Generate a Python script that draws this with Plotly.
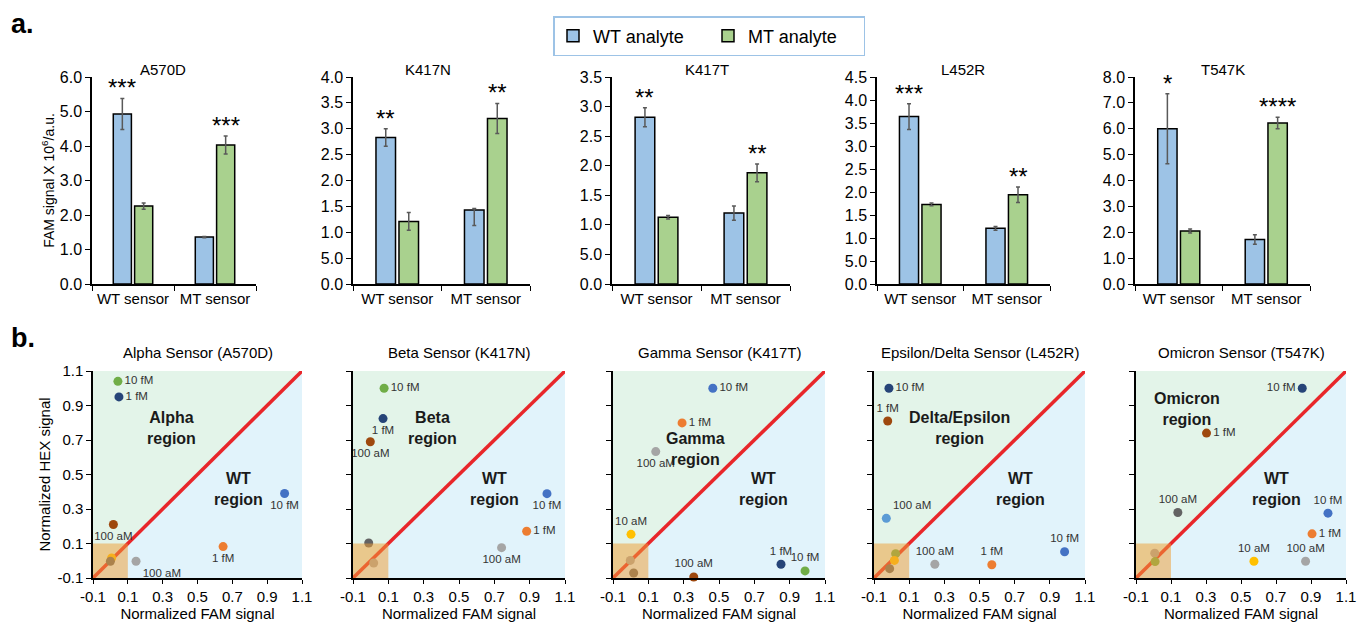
import plotly.graph_objects as go

W, H = 1357, 622


def px(x):
    return x / W


def py(y):
    return 1 - y / H


FONT = "Liberation Sans, Arial, sans-serif"

# ---------------- Panel a data ----------------
mutations = ["A570D", "K417N", "K417T", "L452R", "T547K"]
sensors = ["WT sensor", "MT sensor"]
wt_analyte = [[4.93, 1.36], [2.83, 1.43], [2.82, 1.20], [3.64, 1.21], [6.00, 1.72]]
wt_err_plus = [[0.45, 0.02], [0.17, 0.03], [0.16, 0.12], [0.28, 0.04], [1.35, 0.18]]
wt_err_minus = [[0.45, 0.02], [0.17, 0.30], [0.16, 0.12], [0.28, 0.04], [1.35, 0.18]]
mt_analyte = [[2.26, 4.03], [1.21, 3.20], [1.13, 1.88], [1.73, 1.94], [2.05, 6.22]]
mt_err = [[0.09, 0.26], [0.17, 0.29], [0.03, 0.15], [0.03, 0.17], [0.08, 0.22]]
significance = [["***", "***"], ["**", "**"], ["**", "**"], ["***", "**"], ["*", "****"]]
y_max = [6.0, 4.0, 3.5, 4.5, 8.0]
y_tickvals = [
    [0, 1, 2, 3, 4, 5, 6],
    [0, 0.5, 1, 1.5, 2, 2.5, 3, 3.5, 4],
    [0, 0.5, 1, 1.5, 2, 2.5, 3, 3.5],
    [0, 0.5, 1, 1.5, 2, 2.5, 3, 3.5, 4, 4.5],
    [0, 1, 2, 3, 4, 5, 6, 7, 8],
]
y_ticktext = [
    ["0.0", "1.0", "2.0", "3.0", "4.0", "5.0", "6.0"],
    ["0.0", "5.0", "1.0", "1.5", "2.0", "2.5", "3.0", "3.5", "4.0"],
    ["0.0", "5.0", "1.0", "1.5", "2.0", "2.5", "3.0", "3.5"],
    ["0.0", "5.0", "1.0", "1.5", "2.0", "2.5", "3.0", "3.5", "4.0", "4.5"],
    ["0.0", "1.0", "2.0", "3.0", "4.0", "5.0", "6.0", "7.0", "8.0"],
]

# ---------------- Panel b data ----------------
sensor_titles = ["Alpha Sensor (A570D)", "Beta Sensor (K417N)", "Gamma Sensor (K417T)",
                 "Epsilon/Delta Sensor (L452R)", "Omicron Sensor (T547K)"]
region_names = ["Alpha<br>region", "Beta<br>region", "Gamma<br>region",
                "Delta/Epsilon<br>region", "Omicron<br>region"]

BLUE, ORANGE, GREY, YELLOW = "#4472C4", "#ED7D31", "#A5A5A5", "#FFC000"
LBLUE, GREEN, NAVY, BROWN, DGREY = "#5B9BD5", "#70AD47", "#264478", "#9E480E", "#636363"

fam_alpha = [0.043, 0.049, 0.017, 0.007, 0.000, 0.147, 0.647, 1.000]
hex_alpha = [1.040, 0.950, 0.210, 0.016, -0.003, -0.003, 0.082, 0.390]
col_alpha = [GREEN, NAVY, BROWN, YELLOW, DGREY, GREY, ORANGE, BLUE]
lab_alpha = ["10 fM", "1 fM", "100 aM", "", "", "100 aM", "1 fM", "10 fM"]

fam_beta = [0.076, 0.070, -0.002, -0.011, 0.017, 0.998, 0.883, 0.741]
hex_beta = [1.000, 0.824, 0.690, 0.103, -0.013, 0.389, 0.171, 0.076]
col_beta = [GREEN, NAVY, BROWN, DGREY, GREY, BLUE, ORANGE, GREY]
lab_beta = ["10 fM", "1 fM", "100 aM", "", "", "10 fM", "1 fM", "100 aM"]

fam_gamma = [0.465, 0.291, 0.142, 0.002, -0.002, 0.017, 0.357, 0.851, 0.987]
hex_gamma = [1.000, 0.799, 0.633, 0.153, 0.002, -0.071, -0.094, -0.020, -0.059]
col_gamma = [BLUE, ORANGE, GREY, YELLOW, GREY, DGREY, BROWN, NAVY, GREEN]
lab_gamma = ["10 fM", "1 fM", "100 aM", "10 aM", "", "", "100 aM", "1 fM", "10 fM"]

fam_delta = [-0.015, -0.022, -0.030, 0.023, 0.016, -0.011, 0.246, 0.570, 0.984]
hex_delta = [1.000, 0.810, 0.246, 0.041, 0.002, -0.046, -0.020, -0.023, 0.052]
col_delta = [NAVY, BROWN, LBLUE, GREEN, YELLOW, DGREY, GREY, ORANGE, BLUE]
lab_delta = ["10 fM", "1 fM", "100 aM", "", "", "", "100 aM", "1 fM", "10 fM"]

fam_omicron = [0.850, 0.303, 0.139, 0.007, 0.009, 0.997, 0.906, 0.574, 0.869]
hex_omicron = [1.000, 0.740, 0.280, 0.044, -0.005, 0.276, 0.156, -0.003, -0.003]
col_omicron = [NAVY, BROWN, DGREY, GREY, GREEN, BLUE, ORANGE, YELLOW, GREY]
lab_omicron = ["10 fM", "1 fM", "100 aM", "", "", "10 fM", "1 fM", "10 aM", "100 aM"]

fam_all = [fam_alpha, fam_beta, fam_gamma, fam_delta, fam_omicron]
hex_all = [hex_alpha, hex_beta, hex_gamma, hex_delta, hex_omicron]
col_all = [col_alpha, col_beta, col_gamma, col_delta, col_omicron]
lab_all = [lab_alpha, lab_beta, lab_gamma, lab_delta, lab_omicron]

axis_ticks_b = [-0.1, 0.1, 0.3, 0.5, 0.7, 0.9, 1.1]
axis_ticktext_b = ["-0.1", "0.1", "0.3", "0.5", "0.7", "0.9", "1.1"]

# ---------------- layout geometry (style) ----------------
top_x_dom = [(92, 256), (353, 530), (612, 790), (877, 1050), (1135, 1310)]
top_y_dom = (284, 77)
top_title_x = [163, 428, 707, 963, 1223]
bot_x_dom = [(93, 302), (353, 565), (613, 825), (874, 1085), (1136, 1346)]
bot_y_dom = (578, 371)

text_pos = [
    ["middle right", "middle right", "bottom center", "middle center", "middle center",
     "bottom right", "bottom center", "bottom center"],
    ["middle right", "bottom center", "bottom center", "middle center", "middle center",
     "bottom center", "middle right", "bottom center"],
    ["middle right", "middle right", "bottom center", "top center", "middle center",
     "middle center", "top center", "top center", "top center"],
    ["middle right", "top center", "top right", "middle center", "middle center",
     "middle center", "top center", "top center", "top center"],
    ["middle left", "middle right", "top center", "middle center", "middle center",
     "top center", "middle right", "top center", "top center"],
]
region_pos = [(0.353, 0.771), (0.35, 0.771), (0.367, 0.65), (0.388, 0.77), (0.194, 0.88)]
wt_region_pos = [(0.738, 0.417), (0.703, 0.417), (0.754, 0.417), (0.732, 0.417), (0.70, 0.417)]

BAR_BLUE = "#9DC3E6"
BAR_GREEN = "#A9D18E"

fig = go.Figure()
layout = dict(
    width=W, height=H, autosize=False,
    margin=dict(l=0, r=0, t=0, b=0, pad=0, autoexpand=False),
    paper_bgcolor="white", plot_bgcolor="rgba(0,0,0,0)",
    font=dict(family=FONT, color="#000000"),
    barmode="group", bargap=0.48, bargroupgap=0.15,
    showlegend=True,
    legend=dict(orientation="h", x=px(553), xanchor="left", y=py(16), yanchor="top",
                bordercolor="#9DC3E6", borderwidth=1.5, font=dict(size=18, family=FONT),
                bgcolor="white", itemclick=False, entrywidth=110, entrywidthmode="pixels"),
)
annotations = []
shapes = []

# ---------------- Panel a ----------------
for i in range(5):
    n = i + 1
    xs = "x" if n == 1 else f"x{n}"
    ys = "y" if n == 1 else f"y{n}"
    fig.add_trace(go.Bar(
        x=sensors, y=wt_analyte[i], name="WT analyte", legendgroup="wt",
        showlegend=(i == 0), xaxis=xs, yaxis=ys,
        marker=dict(color=BAR_BLUE, line=dict(color="#000000", width=1.5)),
        error_y=dict(type="data", array=wt_err_plus[i], arrayminus=wt_err_minus[i],
                     symmetric=False, color="#595959", thickness=1.5, width=2),
    ))
    fig.add_trace(go.Bar(
        x=sensors, y=mt_analyte[i], name="MT analyte", legendgroup="mt",
        showlegend=(i == 0), xaxis=xs, yaxis=ys,
        marker=dict(color=BAR_GREEN, line=dict(color="#000000", width=1.5)),
        error_y=dict(type="data", array=mt_err[i], color="#595959", thickness=1.5, width=2),
    ))
    xk = "xaxis" if n == 1 else f"xaxis{n}"
    yk = "yaxis" if n == 1 else f"yaxis{n}"
    layout[xk] = dict(domain=[px(top_x_dom[i][0]), px(top_x_dom[i][1])], anchor=ys,
                      type="category", range=[-0.5, 1.5], showline=True,
                      linecolor="#000000", linewidth=1.5, ticks="outside",
                      tickson="boundaries", ticklen=5, tickcolor="#000000",
                      tickfont=dict(size=15), tickangle=0, showgrid=False,
                      fixedrange=True, automargin=False)
    layout[yk] = dict(domain=[py(top_y_dom[0]), py(top_y_dom[1])], anchor=xs,
                      range=[0, y_max[i]], tickvals=y_tickvals[i], ticktext=y_ticktext[i],
                      showline=True, linecolor="#000000", linewidth=1.5, ticks="outside",
                      ticklen=5, tickcolor="#000000", tickfont=dict(size=16),
                      showgrid=False, zeroline=False, fixedrange=True, automargin=False)
    if i == 0:
        layout[yk]["title"] = dict(text="FAM signal X 10<sup>6</sup>/a.u.",
                                   font=dict(size=14), standoff=2)
    annotations.append(dict(text=mutations[i], x=px(top_title_x[i]), y=py(70),
                            xref="paper", yref="paper", showarrow=False,
                            font=dict(size=15), xanchor="center", yanchor="middle"))
    # significance stars over the taller bar of each group
    for j in range(2):
        wt_top = wt_analyte[i][j] + wt_err_plus[i][j]
        mt_top = mt_analyte[i][j] + mt_err[i][j]
        off = -0.13 if wt_top >= mt_top else 0.13
        annotations.append(dict(text=significance[i][j], x=j + off, y=max(wt_top, mt_top),
                                xref=xs, yref=ys, showarrow=False, xanchor="center",
                                yanchor="bottom", yshift=-5,
                                font=dict(size=24, color="#000000")))

# ---------------- Panel b ----------------
for i in range(5):
    n = i + 6
    xs, ys = f"x{n}", f"y{n}"
    fig.add_trace(go.Scatter(
        x=fam_all[i], y=hex_all[i], mode="markers+text", text=lab_all[i],
        textposition=text_pos[i], textfont=dict(size=11.5, color="#333333"),
        marker=dict(color=col_all[i], size=9), showlegend=False,
        xaxis=xs, yaxis=ys, cliponaxis=False,
    ))
    layout[f"xaxis{n}"] = dict(domain=[px(bot_x_dom[i][0]), px(bot_x_dom[i][1])], anchor=ys,
                               range=[-0.1, 1.1], tickvals=axis_ticks_b, ticktext=axis_ticktext_b,
                               showline=True, linecolor="#000000", linewidth=1.5,
                               ticks="outside", ticklen=4, tickcolor="#000000",
                               tickfont=dict(size=15), showgrid=False, zeroline=False,
                               title=dict(text="Normalized FAM signal", font=dict(size=15), standoff=2),
                               fixedrange=True, automargin=False)
    layout[f"yaxis{n}"] = dict(domain=[py(bot_y_dom[0]), py(bot_y_dom[1])], anchor=xs,
                               range=[-0.1, 1.1], tickvals=axis_ticks_b, ticktext=axis_ticktext_b,
                               showticklabels=(i == 0),
                               showline=True, linecolor="#000000", linewidth=1.5,
                               ticks="outside", ticklen=5, tickcolor="#000000",
                               tickfont=dict(size=15), showgrid=False, zeroline=False,
                               fixedrange=True, automargin=False)
    if i == 0:
        layout[f"yaxis{n}"]["title"] = dict(text="Normalized HEX signal", font=dict(size=15), standoff=3)
    shapes.append(dict(type="path", path="M -0.1,-0.1 L -0.1,1.1 L 1.1,1.1 Z", xref=xs, yref=ys,
                       fillcolor="#E3F4E9", line=dict(width=0), layer="below"))
    shapes.append(dict(type="path", path="M -0.1,-0.1 L 1.1,-0.1 L 1.1,1.1 Z", xref=xs, yref=ys,
                       fillcolor="#E1F3FB", line=dict(width=0), layer="below"))
    shapes.append(dict(type="line", x0=-0.1, y0=-0.1, x1=1.1, y1=1.1, xref=xs, yref=ys,
                       line=dict(color="#E8262A", width=3.5), layer="below"))
    shapes.append(dict(type="rect", x0=-0.1, y0=-0.1, x1=0.1, y1=0.1, xref=xs, yref=ys,
                       fillcolor="rgba(238,160,55,0.52)", line=dict(width=0), layer="above"))
    annotations.append(dict(text=sensor_titles[i], x=px((bot_x_dom[i][0] + bot_x_dom[i][1]) / 2),
                            y=py(352), xref="paper", yref="paper", showarrow=False,
                            font=dict(size=15), xanchor="center", yanchor="middle"))
    annotations.append(dict(text="<b>" + region_names[i].replace("<br>", "</b><br><b>") + "</b>",
                            x=region_pos[i][0], y=region_pos[i][1], xref=xs, yref=ys,
                            showarrow=False, font=dict(size=16, color="#1a1a1a"),
                            xanchor="center", yanchor="middle"))
    annotations.append(dict(text="<b>WT</b><br><b>region</b>",
                            x=wt_region_pos[i][0], y=wt_region_pos[i][1], xref=xs, yref=ys,
                            showarrow=False, font=dict(size=16, color="#1a1a1a"),
                            xanchor="center", yanchor="middle"))

annotations.append(dict(text="<b>a.</b>", x=px(9), y=py(23.5), xref="paper", yref="paper",
                        showarrow=False, xanchor="left", yanchor="middle", font=dict(size=27)))
annotations.append(dict(text="<b>b.</b>", x=px(9), y=py(337.5), xref="paper", yref="paper",
                        showarrow=False, xanchor="left", yanchor="middle", font=dict(size=27)))

layout["annotations"] = annotations
layout["shapes"] = shapes
fig.update_layout(**layout)
fig.write_html("out.html", config={"displayModeBar": False},
               post_script="document.body.style.margin='0';document.body.style.overflow='hidden';")
